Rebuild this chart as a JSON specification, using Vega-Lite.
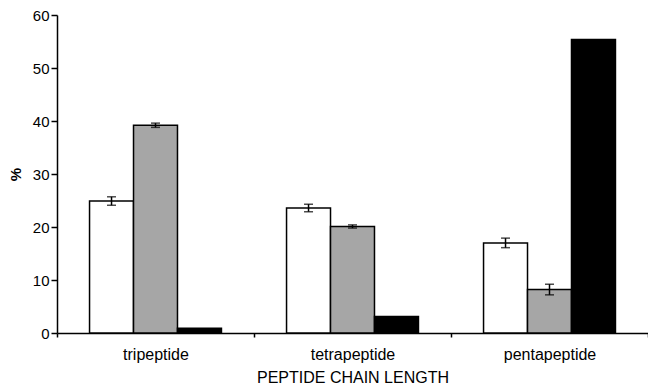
{
  "$schema": "https://vega.github.io/schema/vega-lite/v6.json",
  "width": 591,
  "height": 318,
  "autosize": {"type": "none"},
  "padding": {"left": 57, "top": 15, "right": 0, "bottom": 53},
  "background": "white",
  "config": {
    "view": {"stroke": null},
    "font": "Liberation Sans",
    "axis": {"grid": false, "domainColor": "black", "tickColor": "black", "labelColor": "black", "titleColor": "black", "domainWidth": 1.5, "tickWidth": 1.5, "labelFontSize": 15, "titleFontSize": 15, "titleFontWeight": "normal", "labelFont": "Liberation Sans", "titleFont": "Liberation Sans"}
  },
  "data": {
    "values": [
      {"category": "tripeptide", "series": "a", "value": 24.9, "lo": 24.1, "hi": 25.7},
      {"category": "tripeptide", "series": "b", "value": 39.2, "lo": 38.8, "hi": 39.6},
      {"category": "tripeptide", "series": "c", "value": 0.9, "lo": null, "hi": null},
      {"category": "tetrapeptide", "series": "a", "value": 23.6, "lo": 22.9, "hi": 24.3},
      {"category": "tetrapeptide", "series": "b", "value": 20.1, "lo": 19.8, "hi": 20.4},
      {"category": "tetrapeptide", "series": "c", "value": 3.1, "lo": null, "hi": null},
      {"category": "pentapeptide", "series": "a", "value": 17.0, "lo": 16.1, "hi": 17.9},
      {"category": "pentapeptide", "series": "b", "value": 8.2, "lo": 7.2, "hi": 9.2},
      {"category": "pentapeptide", "series": "c", "value": 55.4, "lo": null, "hi": null}
    ]
  },
  "encoding": {
    "x": {
      "field": "category", "type": "nominal",
      "sort": ["tripeptide", "tetrapeptide", "pentapeptide"],
      "scale": {"paddingInner": 0, "paddingOuter": 0},
      "axis": {"title": "PEPTIDE CHAIN LENGTH", "labelAngle": 0, "tickBand": "extent", "tickSize": 4, "labelPadding": 9, "titlePadding": 7, "labelFontSize": 16, "titleFontSize": 16}
    },
    "xOffset": {"field": "series", "type": "nominal", "scale": {"paddingInner": 0, "paddingOuter": 0.74}}
  },
  "layer": [
    {
      "mark": {"type": "bar", "stroke": "black", "strokeWidth": 1.5},
      "encoding": {
        "y": {"field": "value", "type": "quantitative", "scale": {"domain": [0, 60]},
          "axis": {"title": "%", "titleFontWeight": "bold", "values": [0, 10, 20, 30, 40, 50, 60], "tickSize": 6, "labelPadding": 2, "titlePadding": 9}},
        "fill": {"field": "series", "type": "nominal", "scale": {"domain": ["a", "b", "c"], "range": ["white", "#a6a6a6", "black"]}, "legend": null}
      }
    },
    {
      "transform": [{"filter": "datum.lo != null"}],
      "mark": {"type": "rule", "color": "black", "strokeWidth": 1.5},
      "encoding": {
        "y": {"field": "lo", "type": "quantitative"},
        "y2": {"field": "hi"}
      }
    },
    {
      "transform": [{"filter": "datum.lo != null"}],
      "mark": {"type": "tick", "color": "black", "thickness": 1.5, "size": 9},
      "encoding": {"y": {"field": "lo", "type": "quantitative"}}
    },
    {
      "transform": [{"filter": "datum.lo != null"}],
      "mark": {"type": "tick", "color": "black", "thickness": 1.5, "size": 9},
      "encoding": {"y": {"field": "hi", "type": "quantitative"}}
    }
  ]
}
